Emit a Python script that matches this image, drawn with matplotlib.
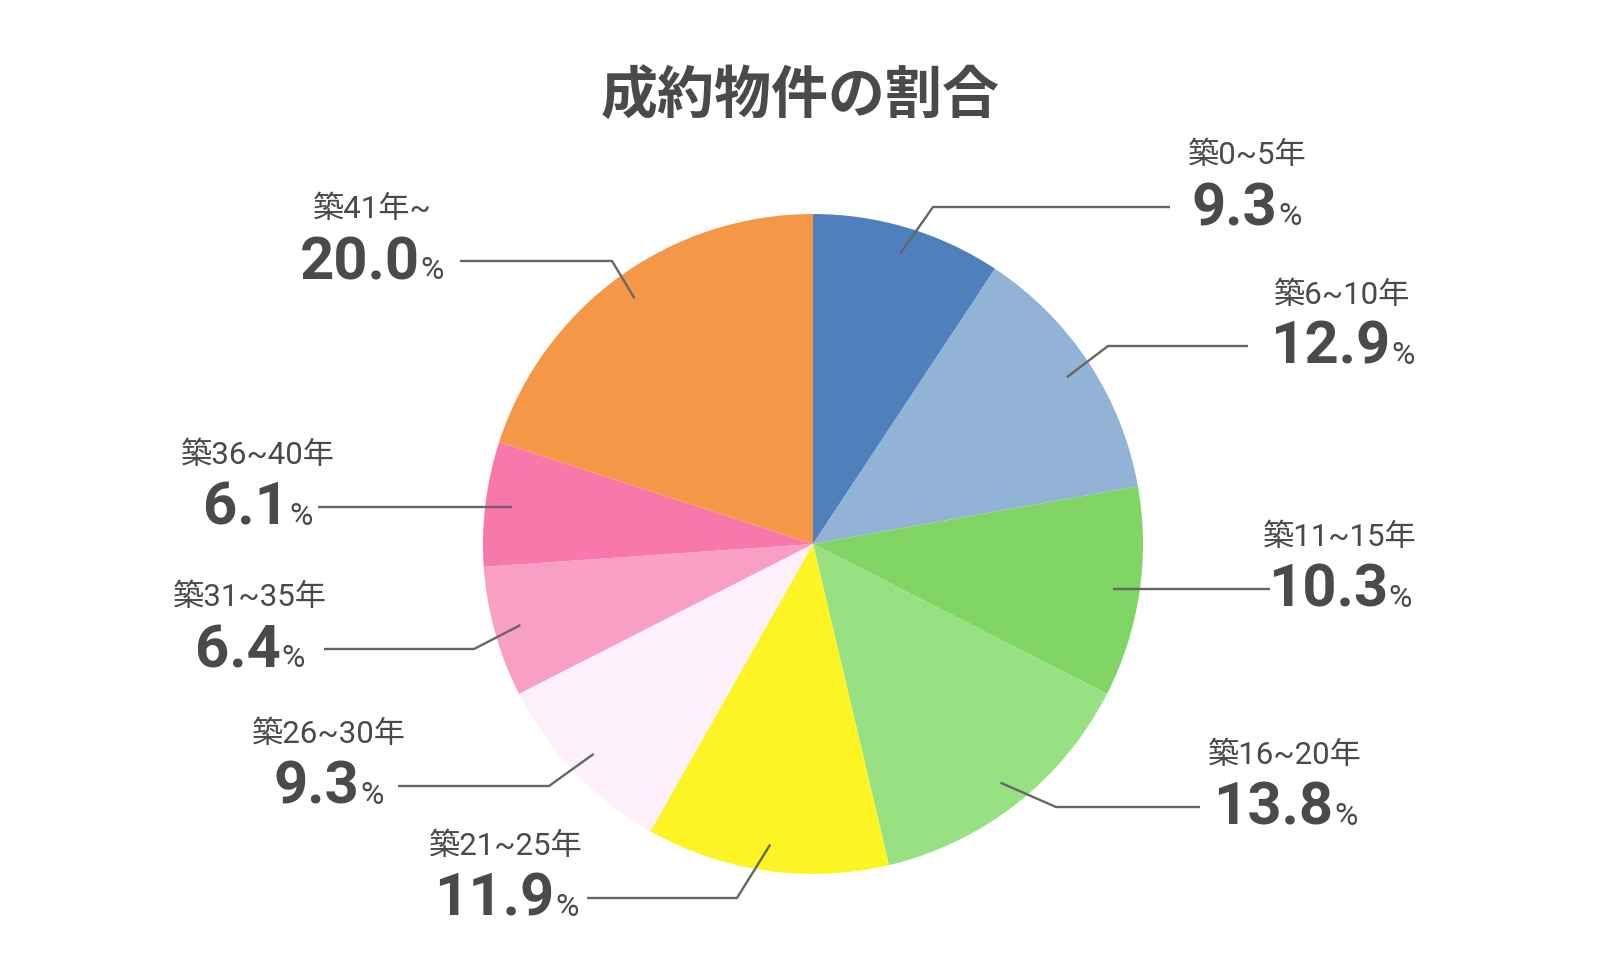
import numpy as np
import matplotlib
matplotlib.use("Agg")
import matplotlib.pyplot as plt

plt.rcParams["font.family"] = ["Noto Sans CJK JP", "DejaVu Sans"]

TITLE = "成約物件の割合"
categories = ["築0~5年", "築6~10年", "築11~15年", "築16~20年", "築21~25年",
              "築26~30年", "築31~35年", "築36~40年", "築41年~"]
shares = [9.3, 12.9, 10.3, 13.8, 11.9, 9.3, 6.4, 6.1, 20.0]
colors = ["#4f80bd", "#93b3d6", "#80d565", "#98e183", "#fdf523",
          "#fdf0fa", "#f7a0c2", "#f978aa", "#f49848"]

# label layout in image pixels: (elbow x, elbow y, line end x, label centre x)
# elbow None -> straight horizontal line from the slice point
label_layout = [
    (933, 208, 1170, 1247),
    (1108, 347, 1248, 1342),
    (None, None, 1270, 1340),
    (1056, 808, 1200, 1285),
    (737, 899, 587, 506),
    (549, 787, 398, 329),
    (474, 650, 324, 250),
    (None, None, 318, 258),
    (612, 262, 460, 372),
]

W, H = 1600, 970
CX, CY, R = 813, 545, 330
TXT = "#4a4a4a"
LINE = "#666666"
NAME_FONT = ["Roboto", "Noto Sans CJK JP", "DejaVu Sans"]
NUM_FONT = ["Roboto", "DejaVu Sans"]

fig = plt.figure(figsize=(W / 100, H / 100), dpi=100)
ax = fig.add_axes([0, 0, 1, 1])

ax.pie(shares, colors=colors, startangle=90, counterclock=False,
       center=(CX, H - CY), radius=R, frame=True,
       wedgeprops=dict(linewidth=0))
ax.set_xlim(0, W)
ax.set_ylim(0, H)
ax.set_aspect("equal")
ax.axis("off")

ax.text(800, H - 96, TITLE, ha="center", va="center", fontsize=41,
        fontweight="bold", color=TXT)

fig.canvas.draw()
renderer = fig.canvas.get_renderer()

cum = np.cumsum([0] + shares[:-1])
total = sum(shares)
for i, (name, val) in enumerate(zip(categories, shares)):
    mid = (cum[i] + val / 2) / total * 2 * np.pi
    px = CX + 0.92 * R * np.sin(mid)
    py = CY - 0.92 * R * np.cos(mid)
    ex, ey, endx, tcx = label_layout[i]
    if ex is None:
        xs, ys = [px, endx], [py, py]
        ly = py
    else:
        xs, ys = [px, ex, endx], [py, ey, ey]
        ly = ey
    ax.plot(xs, [H - y for y in ys], color=LINE, lw=1.7,
            solid_capstyle="butt")

    ax.text(tcx, H - (ly - 52), name, ha="center", va="center",
            fontsize=22.5, color=TXT, family=NAME_FONT)

    num = ax.text(0, 0, f"{val:.1f}", ha="left", va="baseline",
                  fontsize=43, fontweight="bold", color=TXT, family=NUM_FONT)
    pct = ax.text(0, 0, "%", ha="left", va="baseline",
                  fontsize=23, color=TXT, family=NUM_FONT)
    wn = num.get_window_extent(renderer).width
    wp = pct.get_window_extent(renderer).width
    gap = 1
    x0 = tcx - (wn + gap + wp) / 2
    base = H - (ly + 17)
    num.set_position((x0, base))
    pct.set_position((x0 + wn + gap, base))

fig.savefig("out.png", dpi=100, facecolor="white")
